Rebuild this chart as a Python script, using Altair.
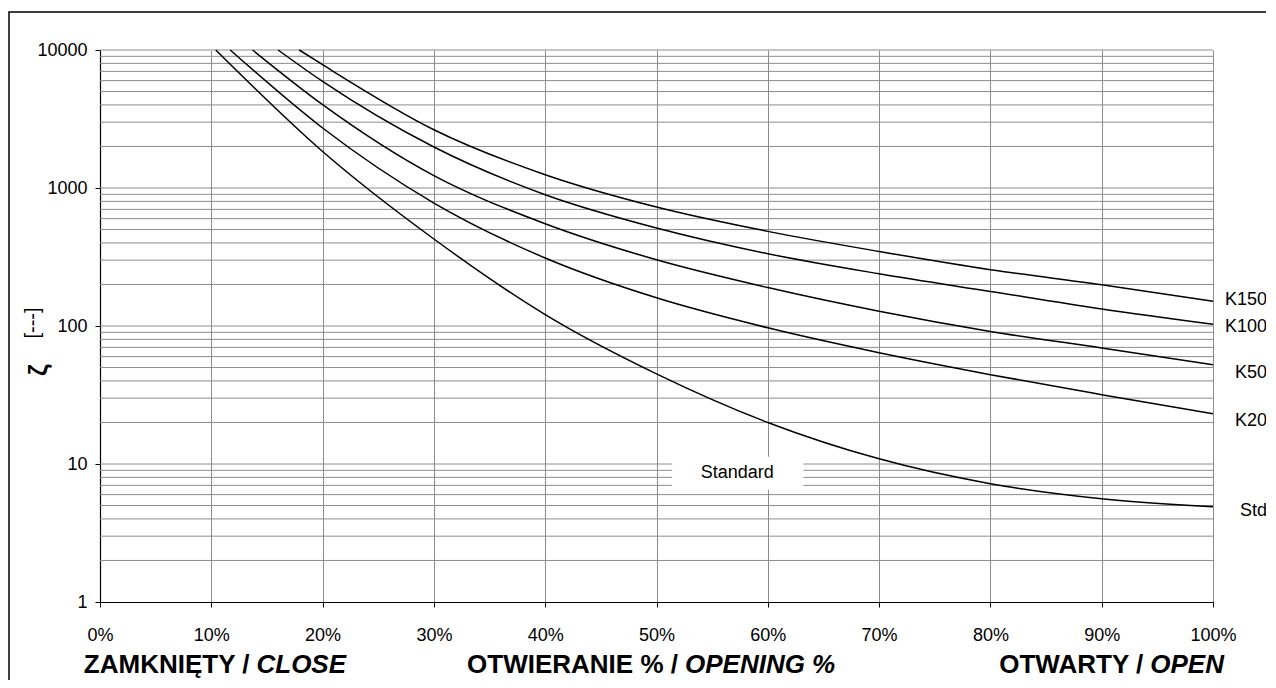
import altair as alt
import pandas as pd

FONT = "Liberation Sans"

# ---- data ----
series_names = ["Standard", "K20", "K50", "K100", "K150"]
start_opening = [10.4, 11.7, 13.7, 16.0, 17.9]   # where each curve leaves the 10000 line
start_value = 10000
opening = [20, 30, 40, 50, 60, 70, 80, 90, 100]
zeta_std = [1840, 427, 121, 45, 20, 10.9, 7.2, 5.6, 4.9]
zeta_k20 = [2720, 778, 311, 160, 97, 64, 44.4, 31.8, 23.1]
zeta_k50 = [4015, 1228, 551, 302, 190, 128, 91.4, 69.3, 52.4]
zeta_k100 = [5920, 1982, 894, 513, 334, 239, 178, 133, 103]
zeta_k150 = [7820, 2645, 1248, 728, 485, 347, 256, 199, 151]

x_ticks = [0, 10, 20, 30, 40, 50, 60, 70, 80, 90, 100]
y_ticks = [1, 10, 100, 1000, 10000]

end_labels = ["Std", "K20", "K50", "K100", "K150"]
end_label_zeta = [4.59, 20.6, 45.9, 98.9, 155]
end_label_opening = 104.85

std_label = "Standard"
std_label_opening = 57.25
std_label_zeta = 8.65
std_box_opening = [51.4, 63.2]
std_box_zeta = [6.5, 11.3]

bottom_bold = ["ZAMKNIĘTY /", "OTWIERANIE % /", "OTWARTY /"]
bottom_italic = ["CLOSE", "OPENING %", "OPEN"]
bottom_split = [13.7, 52.2, 94.0]

y_title_symbol = "ζ"
y_title_unit = "[---]"

# ---- tables ----
rows = []
for name, x0, vals in zip(series_names, start_opening,
                          [zeta_std, zeta_k20, zeta_k50, zeta_k100, zeta_k150]):
    rows.append({"series": name, "x": x0, "y": start_value})
    for o, v in zip(opening, vals):
        rows.append({"series": name, "x": o, "y": v})
df_lines = pd.DataFrame(rows)

grid_vals = [m * d for d in [1, 10, 100, 1000] for m in range(2, 10)] + [10, 100, 1000, 10000]
df_grid = pd.DataFrame({"y": grid_vals})

df_end = pd.DataFrame({"x": [end_label_opening] * len(end_labels), "y": end_label_zeta, "t": end_labels})
df_std = pd.DataFrame({"x": [std_label_opening], "y": [std_label_zeta], "t": [std_label]})
df_box = pd.DataFrame({"x": [std_box_opening[0]], "x2": [std_box_opening[1]],
                       "y": [std_box_zeta[0]], "y2": [std_box_zeta[1]]})
df_bold = pd.DataFrame({"x": bottom_split, "t": bottom_bold})
df_ital = pd.DataFrame({"x": bottom_split, "t": bottom_italic})
df_one = pd.DataFrame({"a": [0]})
df_sym = pd.DataFrame({"t": [y_title_symbol]})
df_unit = pd.DataFrame({"t": [y_title_unit]})

# ---- scales & axes ----
x_scale = alt.Scale(domain=[0, 100], nice=False, zero=False)
y_scale = alt.Scale(type="log", domain=[1, 10000], nice=False)

x_axis = alt.Axis(values=x_ticks, labelExpr="datum.value + '%'", grid=True,
                  gridColor="#8c8c8c", gridWidth=1, tickSize=5, tickColor="black",
                  domainColor="black", domainWidth=1.2, labelFont=FONT, labelFontSize=18,
                  labelColor="black", labelPadding=19, labelFlush=False, title=None)
y_axis = alt.Axis(values=y_ticks, format="d", grid=False, tickSize=5, tickColor="black",
                  domainColor="black", domainWidth=1.2, labelFont=FONT, labelFontSize=18,
                  labelColor="black", labelPadding=8, labelFlush=False, title=None)


def X(f="x"):
    return alt.X(f, type="quantitative", scale=x_scale, axis=x_axis)


def Y(f="y"):
    return alt.Y(f, type="quantitative", scale=y_scale, axis=y_axis)


border = alt.Chart(df_one).mark_rect(fillOpacity=0, stroke="black", strokeWidth=1.5).encode(
    x=alt.value(-91), x2=alt.value(1400), y=alt.value(-38), y2=alt.value(900))

grid = alt.Chart(df_grid).mark_rule(color="#8c8c8c", strokeWidth=1).encode(y=Y())

box = alt.Chart(df_box).mark_rect(color="white").encode(
    x=X(), x2="x2:Q", y=Y(), y2="y2:Q")

lines = alt.Chart(df_lines).mark_line(color="black", strokeWidth=1.5, interpolate="monotone").encode(
    x=X(), y=Y(), detail="series:N")

std_text = alt.Chart(df_std).mark_text(font=FONT, fontSize=18, color="black",
                                       align="center", baseline="middle").encode(
    x=X(), y=Y(), text="t:N")

end_text = alt.Chart(df_end).mark_text(font=FONT, fontSize=18, color="black",
                                       align="right", baseline="middle").encode(
    x=X(), y=Y(), text="t:N")

bold_text = alt.Chart(df_bold).mark_text(font=FONT, fontSize=26, fontWeight="bold", color="black",
                                         align="right", baseline="middle", dx=-3).encode(
    x=X(), y=alt.value(615), text="t:N")

ital_text = alt.Chart(df_ital).mark_text(font=FONT, fontSize=26, fontWeight="bold", fontStyle="italic",
                                         color="black", align="left", baseline="middle", dx=4).encode(
    x=X(), y=alt.value(615), text="t:N")

unit_text = alt.Chart(df_unit).mark_text(font=FONT, fontSize=20, color="black", angle=270,
                                         align="center", baseline="middle").encode(
    x=alt.value(-67), y=alt.value(273), text="t:N")

sym_text = alt.Chart(df_sym).mark_text(font=FONT, fontSize=26, fontWeight="bold", color="black",
                                       angle=270, align="center", baseline="middle").encode(
    x=alt.value(-61), y=alt.value(320), text="t:N")

chart = alt.layer(border, grid, box, lines, std_text, end_text, bold_text, ital_text,
                  unit_text, sym_text).properties(
    width=1113, height=552, autosize="none",
    padding={"left": 92, "top": 42, "right": 53, "bottom": 78},
    background="white",
).configure_view(strokeWidth=0)

chart.save("out.html", embed_options={"renderer": "svg", "actions": False})
